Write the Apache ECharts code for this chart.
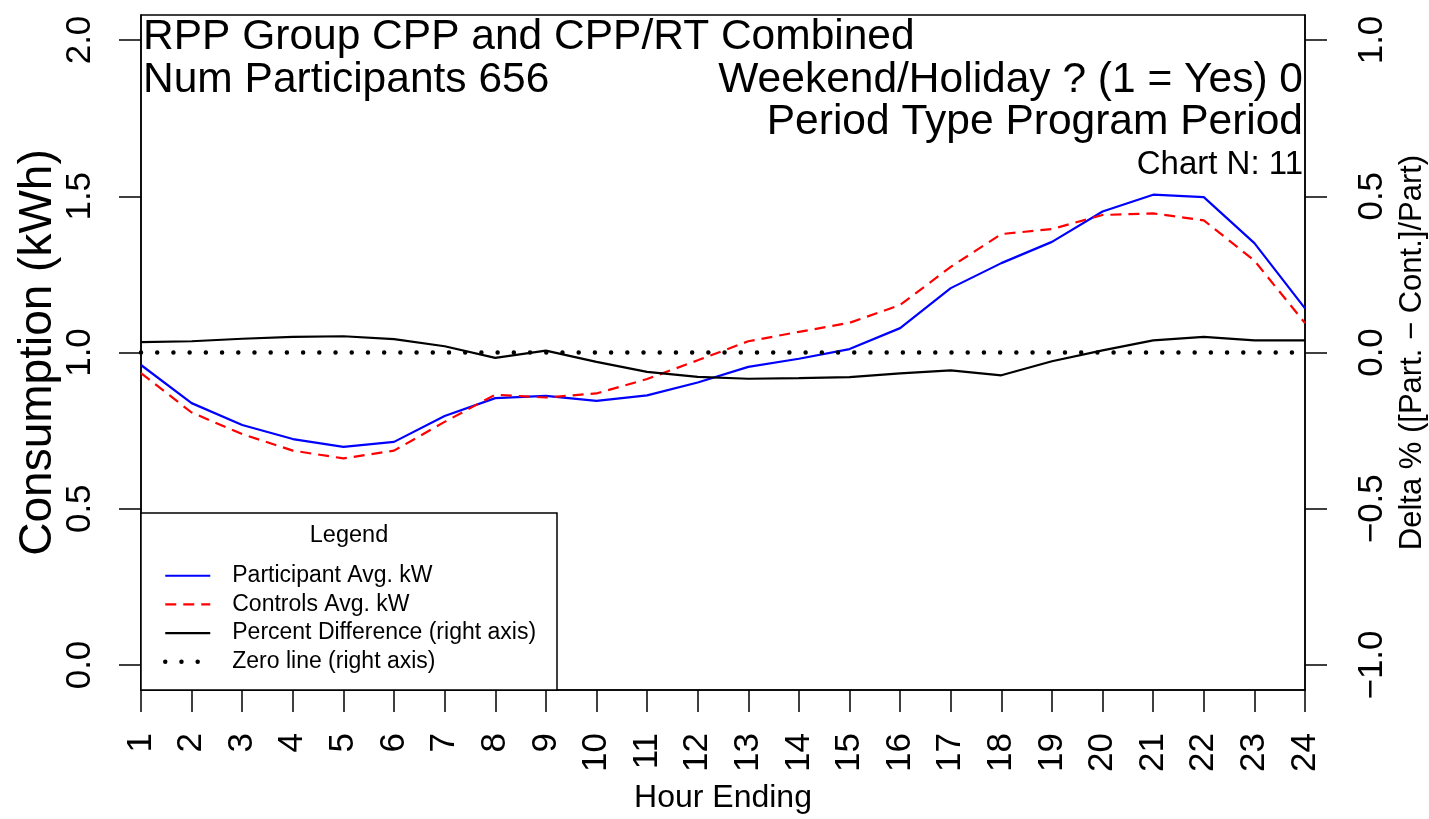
<!DOCTYPE html>
<html>
<head>
<meta charset="utf-8">
<script src="https://cdn.jsdelivr.net/npm/echarts@6/dist/echarts.min.js"></script>
<style>
  html, body { margin: 0; padding: 0; background: #fff; }
  #chart { width: 1429px; height: 819px; }
</style>
</head>
<body>
<div id="chart"></div>
<script>
// hour ending 1..24
const hours = [1, 2, 3, 4, 5, 6, 7, 8, 9, 10, 11, 12, 13, 14, 15, 16, 17, 18, 19, 20, 21, 22, 23, 24];
// participant avg kW (left axis)
const participant = [0.960, 0.838, 0.768, 0.723, 0.698, 0.714, 0.797, 0.854, 0.861, 0.845, 0.863, 0.904,
  0.954, 0.980, 1.011, 1.078, 1.206, 1.286, 1.354, 1.451, 1.505, 1.497, 1.350, 1.141];
// controls avg kW (left axis)
const controls = [0.934, 0.808, 0.739, 0.686, 0.661, 0.686, 0.778, 0.865, 0.856, 0.869, 0.915, 0.975,
  1.036, 1.066, 1.095, 1.152, 1.274, 1.379, 1.395, 1.440, 1.445, 1.423, 1.294, 1.094];
// percent difference (right axis)
const pctDiff = [0.033, 0.036, 0.044, 0.050, 0.052, 0.043, 0.020, -0.017, 0.006, -0.030, -0.062, -0.078,
  -0.084, -0.082, -0.079, -0.067, -0.057, -0.073, -0.028, 0.007, 0.039, 0.050, 0.039, 0.039];
// zero line (right axis)
const zeroLine = [0, 0, 0, 0, 0, 0, 0, 0, 0, 0, 0, 0, 0, 0, 0, 0, 0, 0, 0, 0, 0, 0, 0, 0];

const leftTicks = [0, 0.5, 1, 1.5, 2];
const rightTicks = [-1, -0.5, 0, 0.5, 1];

const FONT = "Liberation Sans";
const pair = (ys) => hours.map((h, i) => [h, ys[i]]);
const fmt = (v) => (v < 0 ? "\u2212" : "") + Math.abs(v).toFixed(1);
const big = { fontFamily: FONT, fontSize: 42.5, lineHeight: 42, fontWeight: "normal", color: "#000" };

const chart = echarts.init(document.getElementById("chart"));

chart.setOption({
  animation: false,
  textStyle: { fontFamily: FONT, color: "#000" },
  title: [
    { text: "RPP Group CPP and CPP/RT Combined", left: 143, top: 16, padding: 0, textStyle: big },
    { text: "Num Participants 656", left: 143, top: 59, padding: 0, textStyle: big },
    { text: "Weekend/Holiday ? (1 = Yes) 0", right: 126, top: 59, padding: 0, textStyle: big },
    { text: "Period Type Program Period", right: 126, top: 101, padding: 0, textStyle: big },
    { text: "Chart N: 11", right: 126, top: 148, padding: 0,
      textStyle: { fontFamily: FONT, fontSize: 33, lineHeight: 33, fontWeight: "normal", color: "#000" } },
  ],
  graphic: [
    {
      type: "rect",
      shape: { x: 141, y: 513, width: 416, height: 177 },
      style: { fill: "#fff", stroke: "#000", lineWidth: 1.5 },
      z: 3,
    },
    {
      type: "text",
      x: 349, y: 536,
      style: { text: "Legend", font: "23.5px 'Liberation Sans'", fill: "#000", align: "center", verticalAlign: "middle" },
      z: 4,
    },
  ],
  legend: {
    orient: "vertical",
    left: 163,
    top: 564,
    padding: 0,
    itemWidth: 45,
    itemHeight: 14,
    itemGap: 5.2,
    itemStyle: { opacity: 0 },
    lineStyle: { width: "inherit" },
    textStyle: { fontFamily: FONT, fontSize: 23, lineHeight: 23.5, color: "#000", padding: [0, 0, 0, 17] },
    data: ["Participant Avg. kW", "Controls Avg. kW", "Percent Difference (right axis)", "Zero line (right axis)"],
  },
  grid: {
    left: 141, right: 124, top: 15, bottom: 129,
    outerBoundsMode: "none",
    containLabel: false,
    show: true, borderColor: "#000", borderWidth: 1.5,
  },
  xAxis: {
    type: "value",
    min: 1, max: 24, interval: 1,
    name: "Hour Ending",
    nameLocation: "middle",
    nameGap: 92,
    nameMoveOverlap: false,
    nameTextStyle: { fontFamily: FONT, fontSize: 32, color: "#000" },
    axisLine: { show: true, onZero: false, lineStyle: { color: "#000", width: 1.5 } },
    axisTick: { show: true, inside: false, length: 22, lineStyle: { color: "#000", width: 1.5 } },
    axisLabel: { rotate: 90, margin: 43, fontFamily: FONT, fontSize: 35, color: "#000", showMinLabel: true, showMaxLabel: true },
    splitLine: { show: false },
  },
  yAxis: [
    {
      type: "value",
      min: -0.08, max: 2.08,
      name: "Consumption (kWh)",
      nameLocation: "middle",
      nameGap: 80,
      nameMoveOverlap: false,
      nameTextStyle: { fontFamily: FONT, fontSize: 46, color: "#000" },
      axisLine: { show: true, onZero: false, lineStyle: { color: "#000", width: 1.5 } },
      axisTick: { show: true, length: 22, customValues: leftTicks, lineStyle: { color: "#000", width: 1.5 } },
      axisLabel: { rotate: 90, margin: 43, fontFamily: FONT, fontSize: 35, color: "#000",
        customValues: leftTicks, formatter: fmt },
      splitLine: { show: false },
    },
    {
      type: "value",
      min: -1.08, max: 1.08,
      position: "right",
      name: "Delta % ([Part. \u2212 Cont.]/Part)",
      nameLocation: "middle",
      nameGap: 92,
      nameMoveOverlap: false,
      nameTextStyle: { fontFamily: FONT, fontSize: 31, color: "#000" },
      axisLine: { show: true, onZero: false, lineStyle: { color: "#000", width: 1.5 } },
      axisTick: { show: true, length: 22, customValues: rightTicks, lineStyle: { color: "#000", width: 1.5 } },
      axisLabel: { rotate: 90, margin: 50, fontFamily: FONT, fontSize: 35, color: "#000",
        customValues: rightTicks, formatter: fmt },
      splitLine: { show: false },
    },
  ],
  series: [
    {
      name: "Participant Avg. kW",
      type: "line",
      yAxisIndex: 0,
      data: pair(participant),
      symbol: "none",
      symbolSize: 0,
      color: "#0000ff",
      lineStyle: { color: "#0000ff", width: 2.2 },
      z: 2,
    },
    {
      name: "Controls Avg. kW",
      type: "line",
      yAxisIndex: 0,
      data: pair(controls),
      symbol: "none",
      symbolSize: 0,
      color: "#ff0000",
      lineStyle: { color: "#ff0000", width: 2.2, type: [11, 7] },
      z: 2,
    },
    {
      name: "Percent Difference (right axis)",
      type: "line",
      yAxisIndex: 1,
      data: pair(pctDiff),
      symbol: "none",
      symbolSize: 0,
      color: "#000",
      lineStyle: { color: "#000", width: 2.2 },
      z: 2,
    },
    {
      name: "Zero line (right axis)",
      type: "line",
      yAxisIndex: 1,
      data: pair(zeroLine),
      symbol: "none",
      symbolSize: 0,
      color: "#000",
      lineStyle: { color: "#000", width: 4.5, type: [0.01, 16.2], cap: "round" },
      z: 2,
    },
  ],
});
</script>
</body>
</html>
